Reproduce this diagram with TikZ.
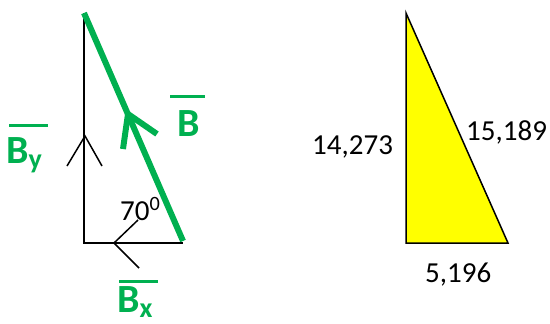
\documentclass[tikz,border=0pt]{standalone}
\usepackage{fontspec}
\setmainfont{Carlito}
\usepackage{tikz}
\definecolor{vecgreen}{RGB}{0,176,80}
\definecolor{triyellow}{RGB}{255,255,0}
\tikzstyle{thinline} = [draw=black, line width=1.5pt]
\tikzstyle{vecline} = [draw=vecgreen, line width=6pt]
\tikzstyle{vecbar} = [draw=vecgreen, line width=3pt]
\tikzstyle{veclabel} = [anchor=base west, inner sep=0pt, text=vecgreen, font=\fontsize{40}{46}\selectfont\bfseries]
\tikzstyle{numlabel} = [anchor=base west, inner sep=0pt, text=black, font=\fontsize{29}{34}\selectfont]
\tikzstyle{sidetri} = [draw=black, line width=1.5pt, fill=triyellow]

\begin{document}
\begin{tikzpicture}[x=1pt, y=-1pt]
\useasboundingbox (0, 0) rectangle (550, 324);
% Components of B:
% corners of the vector triangle
\coordinate (top) at (84, 13);
\coordinate (origin) at (84, 243);
\coordinate (tip) at (183, 243);
\coordinate (vtip) at (183, 241);
\draw[thinline] (top) -- (origin) -- (tip);
% B_y chevron
\coordinate (byhead) at (85, 136);
\coordinate (byleft) at (67, 166);
\coordinate (byright) at (102, 166);
\draw[thinline] (byleft) -- (byhead) -- (byright);
% B_x chevron
\coordinate (bxhead) at (114, 243);
\coordinate (bxup) at (138, 220);
\coordinate (bxdown) at (139, 268);
\draw[thinline] (bxup) -- (bxhead) -- (bxdown);
% Vector B itself
\draw[vecline] (vtip) -- (top);
\coordinate (bhead) at (128, 114);
\coordinate (bleft) at (123, 149);
\coordinate (bright) at (157, 134);
\draw[vecline] (bleft) -- (bhead) -- (bright);
% Labels
\node[numlabel] (angle) at (120, 220) {70\textsuperscript{0}};
\node[veclabel] (blab) at (177, 136) {B};
\draw[vecbar] (170, 96) -- (205, 96);
\node[veclabel] (bylab) at (6, 163) {B\textsubscript{y}};
\draw[vecbar] (9, 125) -- (48, 125);
\node[veclabel] (bxlab) at (117, 312) {B\textsubscript{x}};
\draw[vecbar] (119, 281) -- (158, 281);
% Side lengths:
\coordinate (ta) at (406, 13);
\coordinate (tc) at (406, 243);
\coordinate (td) at (508, 243);
\filldraw[sidetri] (ta) -- (tc) -- (td) -- cycle;
\node[numlabel] (ylen) at (312, 154) {14,273};
\node[numlabel] (hlen) at (466, 140) {15,189};
\node[numlabel] (xlen) at (425, 282) {5,196};
\end{tikzpicture}
\end{document}
